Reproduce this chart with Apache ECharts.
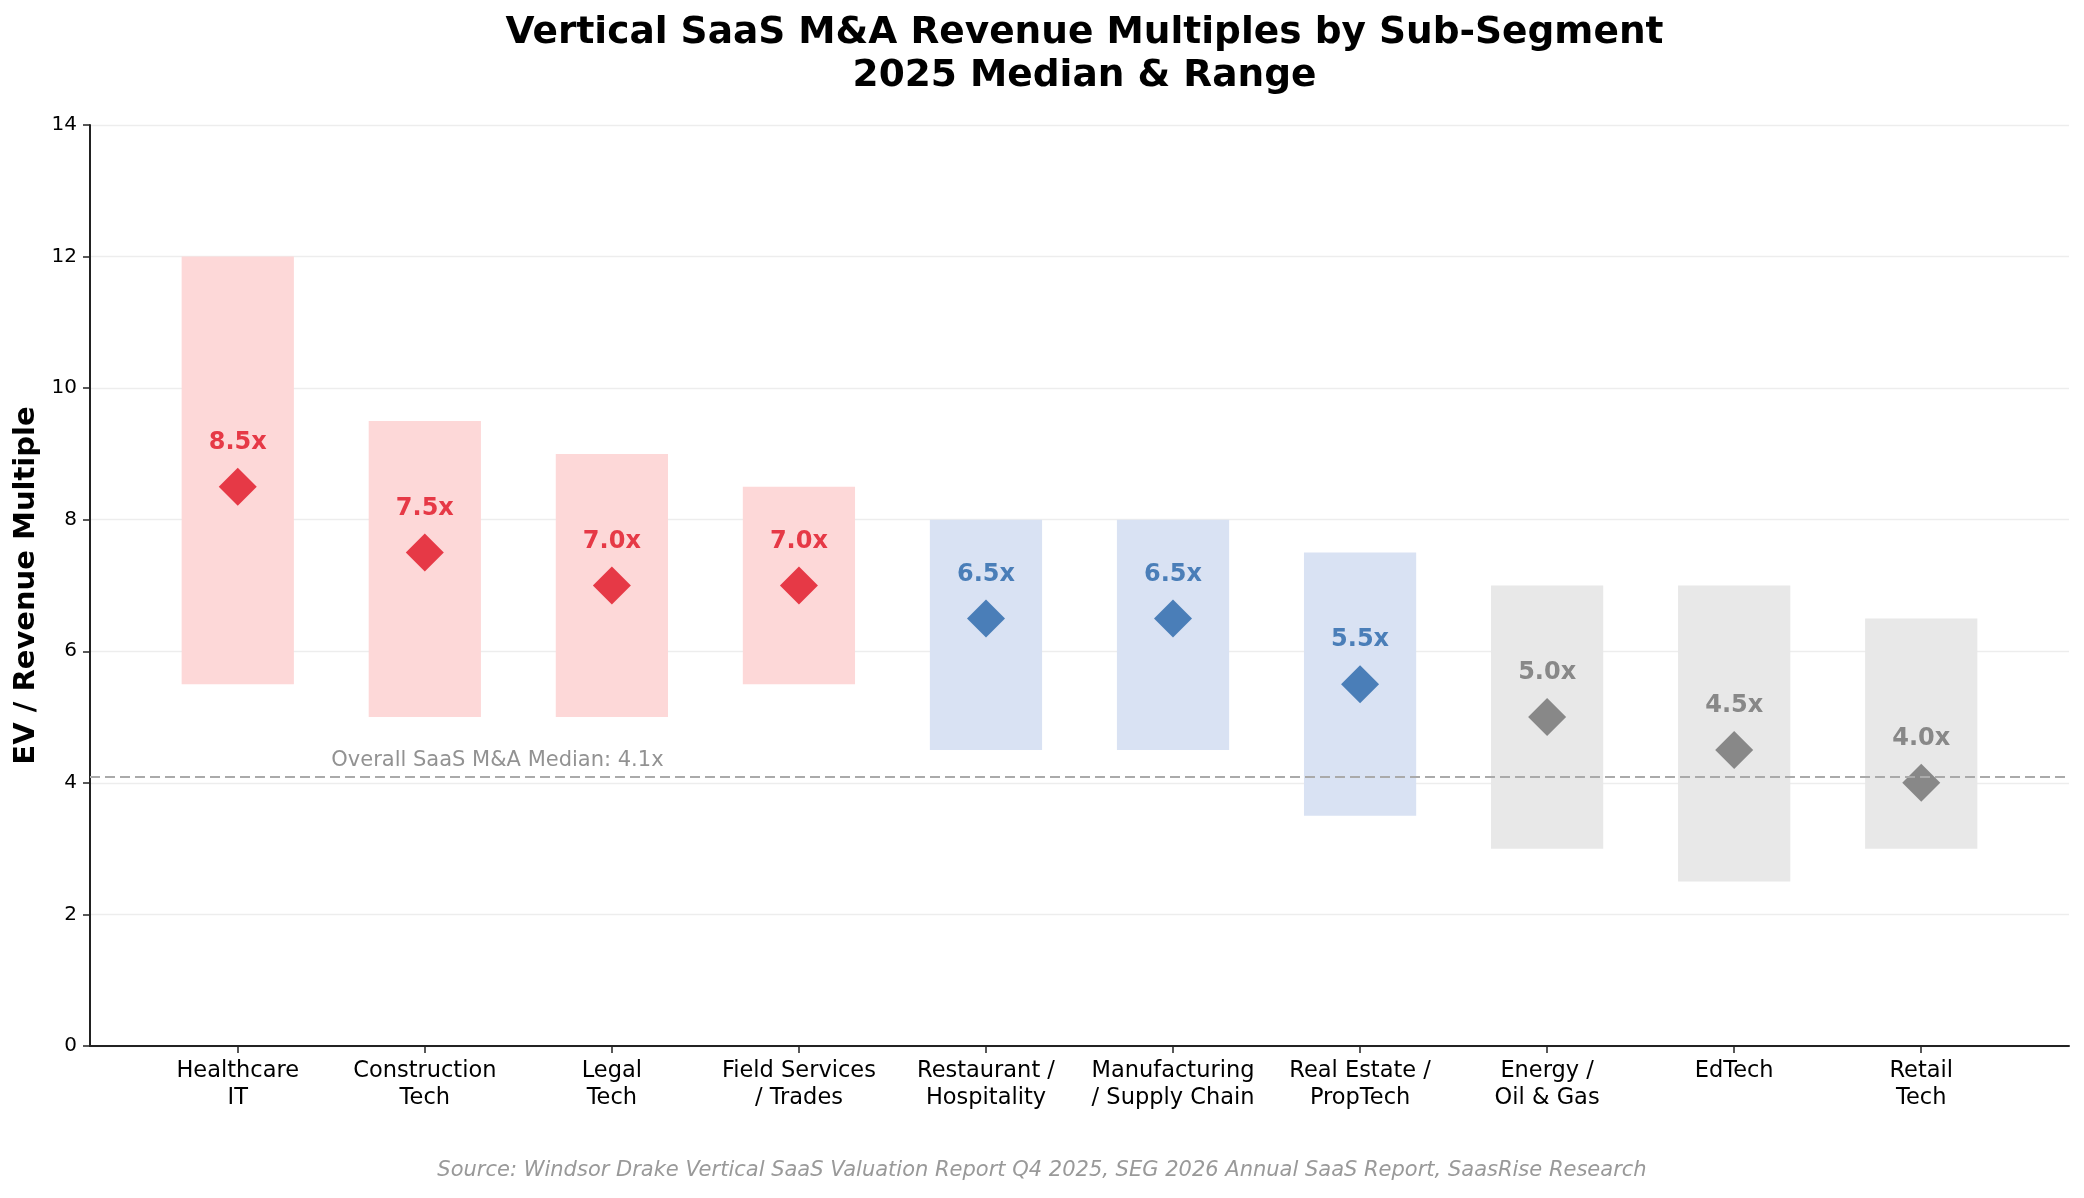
<!DOCTYPE html>
<html>
<head>
<meta charset="utf-8">
<script src="https://cdn.jsdelivr.net/npm/echarts@6/dist/echarts.min.js"></script>
<style>
  html, body { margin: 0; padding: 0; background: #fff; }
  #chart { width: 2084px; height: 1198px; }
</style>
</head>
<body>
<div id="chart"></div>
<script>
const segments = [
  'Healthcare\nIT', 'Construction\nTech', 'Legal\nTech', 'Field Services\n/ Trades',
  'Restaurant /\nHospitality', 'Manufacturing\n/ Supply Chain', 'Real Estate /\nPropTech',
  'Energy /\nOil & Gas', 'EdTech', 'Retail\nTech'
];
const lowValues = [5.5, 5.0, 5.0, 5.5, 4.5, 4.5, 3.5, 3.0, 2.5, 3.0];
const highValues = [12.0, 9.5, 9.0, 8.5, 8.0, 8.0, 7.5, 7.0, 7.0, 6.5];
const medianValues = [8.5, 7.5, 7.0, 7.0, 6.5, 6.5, 5.5, 5.0, 4.5, 4.0];
const tiers = ['top', 'top', 'top', 'top', 'mid', 'mid', 'mid', 'low', 'low', 'low'];
const overallMedian = 4.1;
const yTicks = [0, 2, 4, 6, 8, 10, 12, 14];

const tierColors = {
  top: {mark: '#E63946', fill: '#FDD8D8'},
  mid: {mark: '#4A7EB8', fill: '#D9E2F3'},
  low: {mark: '#888888', fill: '#E8E8E8'}
};

const chart = echarts.init(document.getElementById('chart'));
const positions = segments.map((_, i) => i);
const plotLeft = 90;
const plotRight = 15;

chart.setOption({
  animation: false,
  title: {
    text: 'Vertical SaaS M&A Revenue Multiples by Sub-Segment\n2025 Median & Range',
    left: (plotLeft + 2084 - plotRight) / 2,
    textAlign: 'center',
    top: 7,
    textStyle: {
      fontFamily: 'DejaVu Sans',
      fontSize: 37.5,
      fontWeight: 'bold',
      lineHeight: 43,
      color: '#000'
    }
  },
  graphic: [{
    type: 'text',
    left: 'center',
    top: 1160,
    style: {
      text: 'Source: Windsor Drake Vertical SaaS Valuation Report Q4 2025, SEG 2026 Annual SaaS Report, SaasRise Research',
      font: 'italic 21px "DejaVu Sans"',
      fill: '#999999'
    }
  }],
  grid: {left: plotLeft, right: plotRight, top: 125, bottom: 152},
  xAxis: {
    type: 'value',
    min: -0.79,
    max: 9.79,
    splitLine: {show: false},
    axisLine: {lineStyle: {color: '#222', width: 2}},
    axisTick: {show: true, customValues: positions, length: 7, lineStyle: {color: '#222', width: 1.5}},
    axisLabel: {
      customValues: positions,
      formatter: (v) => segments[Math.round(v)],
      fontFamily: 'DejaVu Sans',
      fontSize: 22.5,
      lineHeight: 27,
      color: '#000',
      margin: 12
    }
  },
  yAxis: {
    type: 'value',
    min: 0,
    max: 14,
    interval: 2,
    name: 'EV / Revenue Multiple',
    nameLocation: 'middle',
    nameGap: 46,
    nameRotate: 90,
    nameTextStyle: {fontFamily: 'DejaVu Sans', fontSize: 29, fontWeight: 'bold', color: '#000'},
    axisLine: {show: true, onZero: false, lineStyle: {color: '#222', width: 2}},
    axisTick: {show: true, length: 7, lineStyle: {color: '#222', width: 1.5}},
    axisLabel: {
      customValues: yTicks,
      fontFamily: 'DejaVu Sans',
      fontSize: 20,
      color: '#000',
      margin: 13
    },
    splitLine: {lineStyle: {color: '#EDEDED', width: 1.3}}
  },
  series: [
    {
      type: 'custom',
      name: 'Range',
      z: 1,
      data: positions.map((i) => [i, lowValues[i], highValues[i]]),
      renderItem: (params, api) => {
        const i = api.value(0);
        const topLeft = api.coord([i - 0.3, api.value(2)]);
        const bottomRight = api.coord([i + 0.3, api.value(1)]);
        return {
          type: 'rect',
          shape: {
            x: topLeft[0],
            y: topLeft[1],
            width: bottomRight[0] - topLeft[0],
            height: bottomRight[1] - topLeft[1]
          },
          style: {fill: tierColors[tiers[i]].fill}
        };
      }
    },
    {
      type: 'line',
      name: 'Overall median',
      z: 2,
      symbol: 'none',
      data: [],
      markLine: {
        silent: true,
        symbol: 'none',
        label: {show: false},
        lineStyle: {color: '#AAAAAA', type: [10, 5], width: 2},
        data: [{yAxis: overallMedian}]
      }
    },
    {
      type: 'scatter',
      name: 'Median label',
      z: 3,
      symbolSize: 0,
      silent: true,
      data: [[0.5, overallMedian]],
      label: {
        show: true,
        position: [0, -16],
        align: 'left',
        verticalAlign: 'middle',
        formatter: `Overall SaaS M&A Median: ${overallMedian}x`,
        fontFamily: 'DejaVu Sans',
        fontSize: 21,
        color: '#777777'
      }
    },
    {
      type: 'scatter',
      name: 'Median',
      z: 4,
      symbol: 'diamond',
      symbolSize: 38,
      itemStyle: {opacity: 1},
      data: positions.map((i) => ({
        value: [i, medianValues[i]],
        itemStyle: {color: tierColors[tiers[i]].mark, opacity: 1},
        label: {color: tierColors[tiers[i]].mark}
      })),
      label: {
        show: true,
        position: [19, -25],
        align: 'center',
        verticalAlign: 'middle',
        formatter: (p) => p.value[1].toFixed(1) + 'x',
        fontFamily: 'DejaVu Sans',
        fontSize: 24,
        fontWeight: 'bold'
      }
    }
  ]
});
</script>
</body>
</html>
